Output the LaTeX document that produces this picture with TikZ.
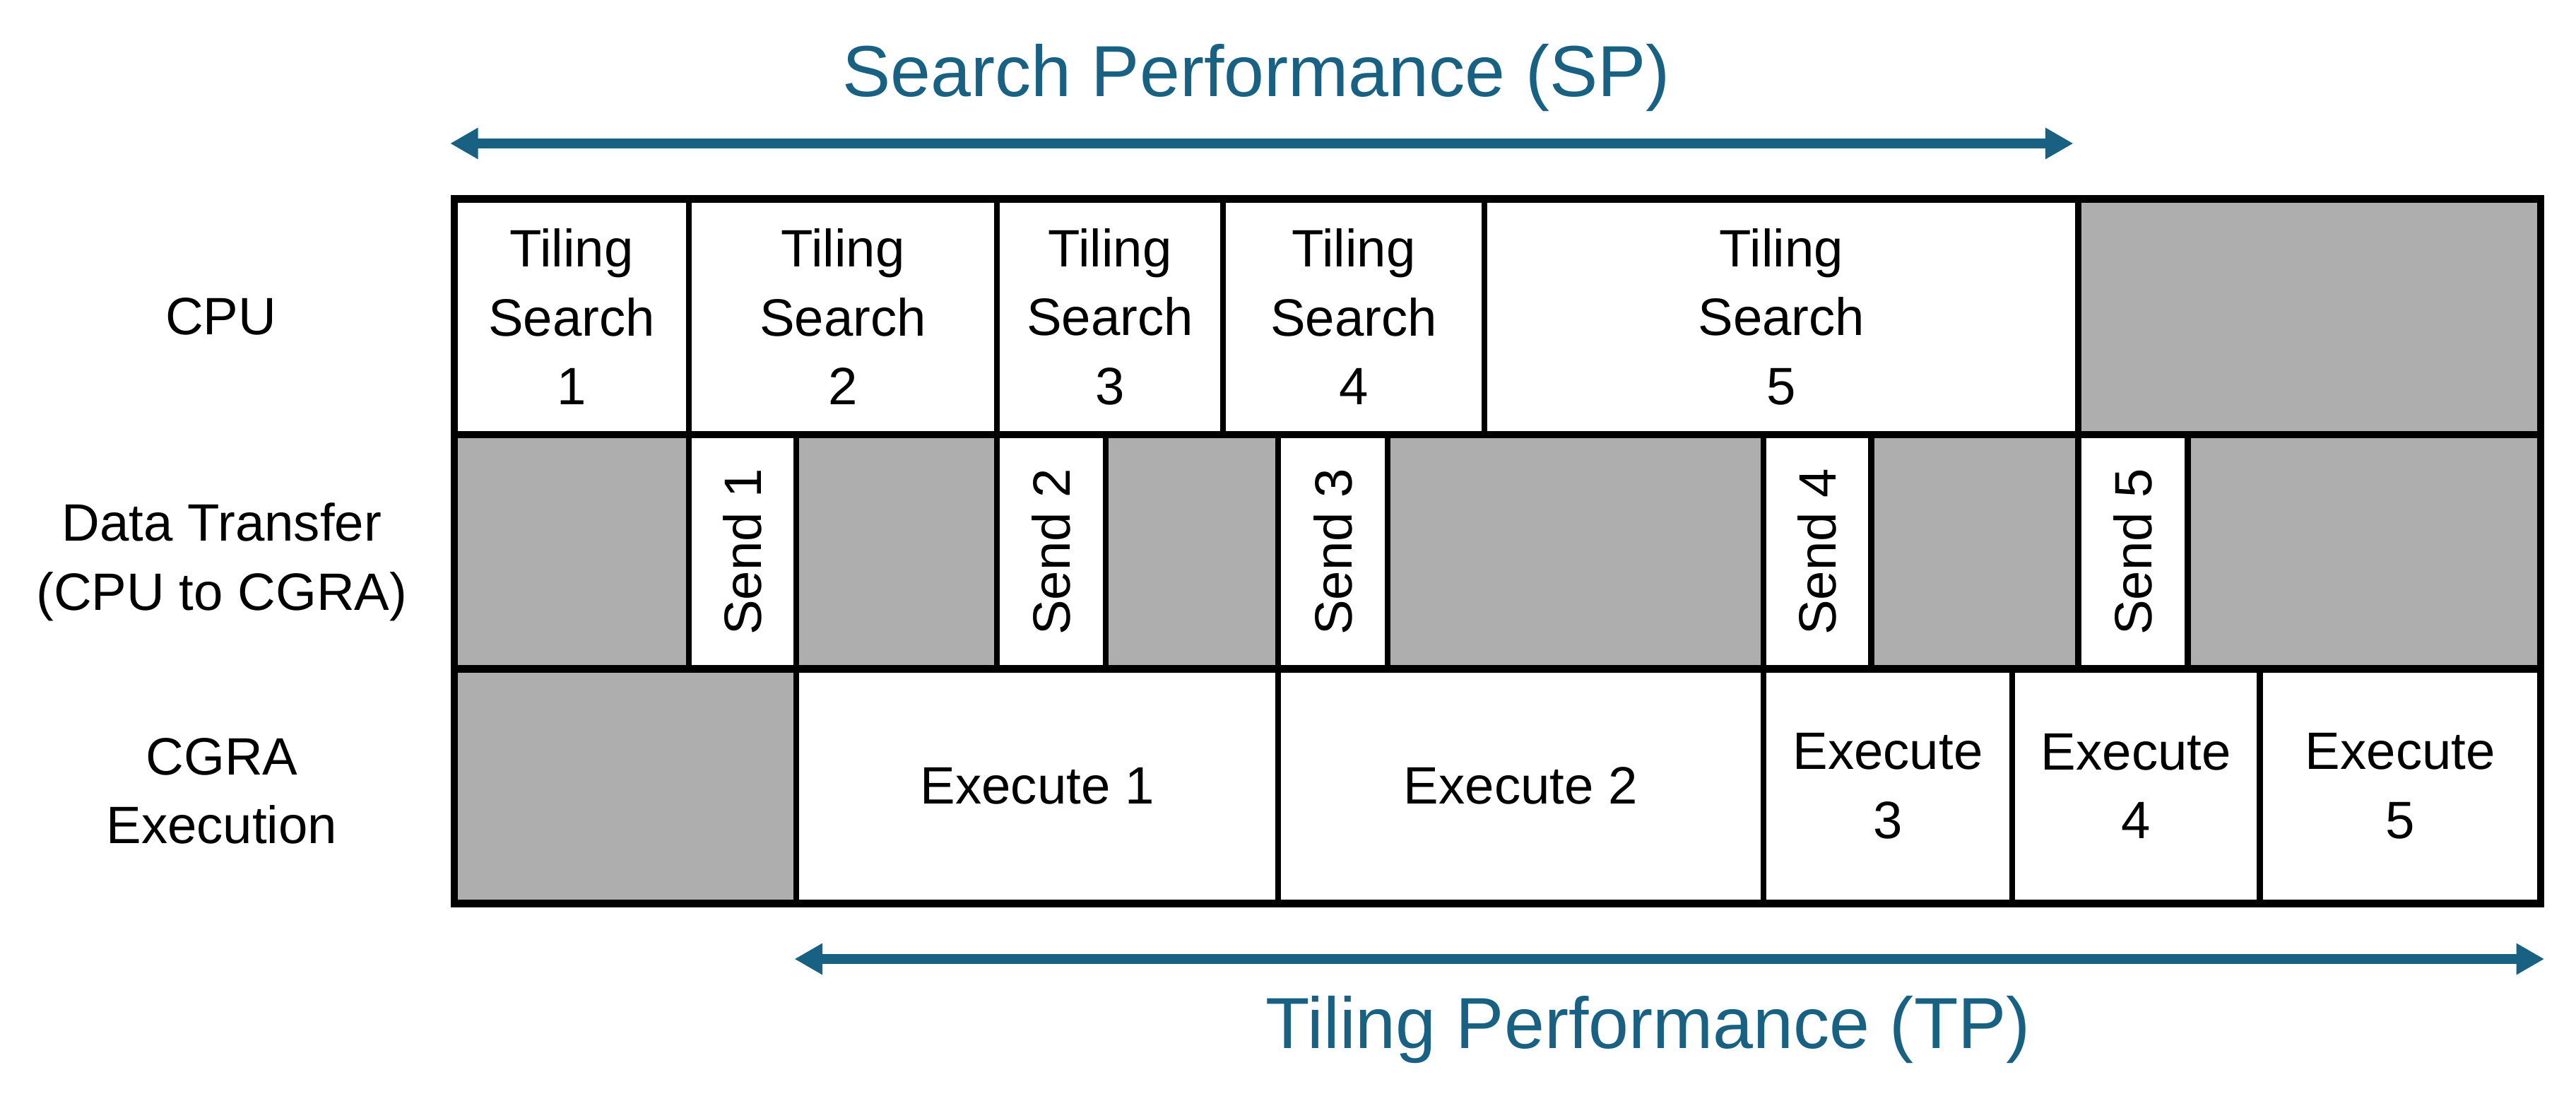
\documentclass[tikz,border=0pt]{standalone}
\usepackage{fontspec}
\usepackage{graphicx}
\setmainfont{Liberation Sans}
\usetikzlibrary{arrows.meta}
\definecolor{tealc}{RGB}{24,97,131}
\definecolor{grayc}{RGB}{174,174,174}
\newcommand\tcell[7]{\node[#2, minimum width={(#4-#3)*1pt}, minimum height={(#6-#5)*1pt}] (#1) at ({(#3+#4)/2},{(#5+#6)/2}) {#7};}
\begin{document}
\begin{tikzpicture}[x=1pt,y=-1pt,
  cellbase/.style={draw=black, line width=3.6pt, inner sep=0pt, outer sep=0pt, align=center, font=\fontsize{32}{42}\selectfont},
  whitecell/.style={cellbase, fill=white},
  graycell/.style={cellbase, fill=grayc},
  rowlabel/.style={align=center, font=\fontsize{32}{42}\selectfont},
  perf/.style={text=tealc, font=\fontsize{44}{52}\selectfont, inner sep=0pt},
  span/.style={draw=tealc, line width=6pt, {Triangle[length=17pt,width=18pt]}-{Triangle[length=17pt,width=18pt]}},
  frame/.style={draw=black, line width=4.6pt}
]
\useasboundingbox (0,0) rectangle (1568,680);
% row 1 : CPU
\tcell{ts1}{whitecell}{276.5}{419.3}{121}{264.5}{Tiling\\Search\\1}
\tcell{ts2}{whitecell}{419.3}{606.9}{121}{264.5}{Tiling\\Search\\2}
\tcell{ts3}{whitecell}{606.9}{744.5}{121}{264.5}{Tiling\\Search\\3}
\tcell{ts4}{whitecell}{744.5}{903.6}{121}{264.5}{Tiling\\Search\\4}
\tcell{ts5}{whitecell}{903.6}{1265}{121}{264.5}{Tiling\\Search\\5}
\tcell{cpuidle}{graycell}{1265}{1546.5}{121}{264.5}{}
% row 2 : data transfer
\tcell{dt0}{graycell}{276.5}{419.3}{264.5}{407}{}
\tcell{s1}{whitecell}{419.3}{484.8}{264.5}{407}{\rotatebox{90}{Send 1}}
\tcell{dt1}{graycell}{484.8}{606.9}{264.5}{407}{}
\tcell{s2}{whitecell}{606.9}{673}{264.5}{407}{\rotatebox{90}{Send 2}}
\tcell{dt2}{graycell}{673}{778}{264.5}{407}{}
\tcell{s3}{whitecell}{778}{844.7}{264.5}{407}{\rotatebox{90}{Send 3}}
\tcell{dt3}{graycell}{844.7}{1073.3}{264.5}{407}{}
\tcell{s4}{whitecell}{1073.3}{1139}{264.5}{407}{\rotatebox{90}{Send 4}}
\tcell{dt4}{graycell}{1139}{1265}{264.5}{407}{}
\tcell{s5}{whitecell}{1265}{1331.6}{264.5}{407}{\rotatebox{90}{Send 5}}
\tcell{dt5}{graycell}{1331.6}{1546.5}{264.5}{407}{}
% row 3 : CGRA execution
\tcell{ex0}{graycell}{276.5}{484.8}{407}{549.7}{}
\tcell{ex1}{whitecell}{484.8}{778}{407}{549.7}{Execute 1}
\tcell{ex2}{whitecell}{778}{1073.3}{407}{549.7}{Execute 2}
\tcell{ex3}{whitecell}{1073.3}{1224.9}{407}{549.7}{Execute\\3}
\tcell{ex4}{whitecell}{1224.9}{1375.5}{407}{549.7}{Execute\\4}
\tcell{ex5}{whitecell}{1375.5}{1546.5}{407}{549.7}{Execute\\5}
% frame and row separators
\draw[frame] (ts1.north west) rectangle (ex5.south east);
\draw[frame] (ts1.south west) -- (cpuidle.south east);
\draw[frame] (dt0.south west) -- (dt5.south east);
% row labels
\node[rowlabel] (lcpu) at (134.5,192.5) {CPU};
\node[rowlabel] (ldt) at (135,341.9) {Data Transfer\\(CPU to CGRA)};
\node[rowlabel] (lcgra) at (135,481.4) {CGRA\\Execution};
% performance spans
\coordinate (spL) at (274,87.3);
\coordinate (spR) at (1262,87.3);
\draw[span] (spL) -- (spR);
\node[perf, anchor=base] (sp) at (764.7,58.8) {Search Performance (SP)};
\coordinate (tpL) at (483.6,583.6);
\coordinate (tpR) at (1548.7,583.6);
\draw[span] (tpL) -- (tpR);
\node[perf, anchor=base] (tp) at (1003.3,638) {Tiling Performance (TP)};
\end{tikzpicture}
\end{document}
